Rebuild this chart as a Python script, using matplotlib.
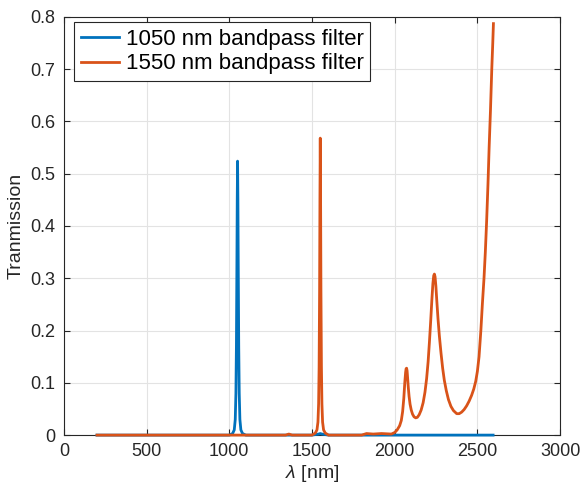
import matplotlib
matplotlib.use('Agg')
import matplotlib.pyplot as plt

plt.rcParams['font.family'] = ['Liberation Sans', 'DejaVu Sans']
plt.rcParams['mathtext.fontset'] = 'custom'
plt.rcParams['mathtext.it'] = 'Liberation Sans:italic'

# Data (wavelength in nm, transmission)
wl_1050 = [200, 1000, 1020, 1030, 1036, 1040, 1043, 1046, 1048, 1050, 1052, 1054, 1057,
           1060, 1064, 1070, 1080, 1100, 1500, 1540, 1550, 1560, 1600, 2595]
tr_1050 = [0.0, 0.0, 0.003, 0.01, 0.03, 0.08, 0.17, 0.33, 0.45, 0.524, 0.45, 0.33, 0.17,
           0.08, 0.03, 0.01, 0.003, 0.0, 0.0, 0.002, 0.003, 0.002, 0.0, 0.0]

wl_1550 = [200, 1340, 1360, 1380, 1500, 1520, 1530, 1536, 1540, 1543, 1546, 1548, 1550,
           1552, 1554, 1557, 1560, 1564, 1570, 1580, 1600, 1800, 1830, 1870, 1920, 1980,
           2000, 2015, 2030, 2040, 2048, 2055, 2061, 2066, 2069, 2072, 2075, 2078, 2082,
           2087, 2093, 2100, 2108, 2117, 2127, 2137, 2148, 2160, 2172, 2183, 2193, 2202,
           2210, 2218, 2225, 2231, 2236, 2240, 2244, 2249, 2255, 2262, 2270, 2280, 2290,
           2300, 2312, 2325, 2340, 2355, 2375, 2390, 2405, 2420, 2435, 2450, 2465, 2478,
           2490, 2500, 2510, 2521, 2530, 2540, 2548, 2556, 2564, 2571, 2579, 2587, 2593, 2597]
tr_1550 = [0.0, 0.0, 0.002, 0.0, 0.0, 0.004, 0.01, 0.025, 0.06, 0.13, 0.28, 0.45, 0.568,
           0.45, 0.28, 0.13, 0.06, 0.025, 0.01, 0.004, 0.0, 0.0, 0.003, 0.002, 0.003, 0.002,
           0.005, 0.01, 0.018, 0.028, 0.045, 0.07, 0.1, 0.12, 0.127, 0.128, 0.123, 0.11, 0.092,
           0.074, 0.059, 0.048, 0.04, 0.035, 0.033, 0.034, 0.039, 0.048, 0.062, 0.082, 0.108, 0.14,
           0.178, 0.22, 0.26, 0.29, 0.305, 0.308, 0.303, 0.285, 0.255, 0.222, 0.19, 0.157, 0.128,
           0.105, 0.085, 0.068, 0.055, 0.047, 0.041, 0.041, 0.044, 0.049, 0.056, 0.065, 0.076, 0.088,
           0.103, 0.122, 0.15, 0.2, 0.25, 0.3, 0.35, 0.41, 0.48, 0.55, 0.62, 0.70, 0.75, 0.787]

fig = plt.figure(figsize=(5.81, 4.95), dpi=100)
ax = fig.add_axes([0.110, 0.121, 0.854, 0.845])

ax.plot(wl_1050, tr_1050, color='#0072BD', lw=2, label='1050 nm bandpass filter',
        solid_joinstyle='round', clip_on=False, zorder=3)
ax.plot(wl_1550, tr_1550, color='#D95319', lw=2, label='1550 nm bandpass filter',
        solid_joinstyle='round', clip_on=False, zorder=4)

ax.set_xlim(0, 3000)
ax.set_ylim(0, 0.8)
ax.set_xticks(range(0, 3001, 500))
ax.set_yticks([0, 0.1, 0.2, 0.3, 0.4, 0.5, 0.6, 0.7, 0.8])
ax.set_yticklabels(['0', '0.1', '0.2', '0.3', '0.4', '0.5', '0.6', '0.7', '0.8'])
ax.grid(True, color='#e3e3e3', lw=0.8)
ax.set_axisbelow(True)
ax.tick_params(direction='in', top=True, right=True, labelsize=13, colors='#262626',
               length=4, width=0.8, pad=6)
for s in ax.spines.values():
    s.set_color('#262626')
    s.set_linewidth(0.8)

ax.set_xlabel(r'$\mathit{\lambda}$ [nm]', fontsize=14, color='#262626', labelpad=2)
ax.set_ylabel('Tranmission', fontsize=14, color='#262626', labelpad=4)

leg = ax.legend(loc='upper left', fontsize=16, fancybox=False, framealpha=1,
                edgecolor='#262626', handlelength=1.7, handletextpad=0.3,
                borderaxespad=0.25, borderpad=0.3, labelspacing=0.15,
                bbox_to_anchor=(0.01, 1.0))
leg.get_frame().set_linewidth(0.8)

fig.savefig('out.png', dpi=100)
